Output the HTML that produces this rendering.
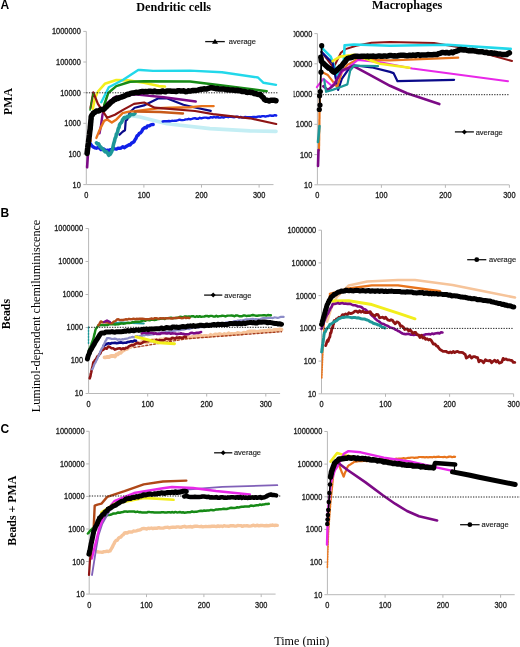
<!DOCTYPE html>
<html><head><meta charset="utf-8"><style>
html,body{margin:0;padding:0;background:#fff;}
body{width:520px;height:647px;position:relative;overflow:hidden;font-family:"Liberation Sans",sans-serif;}
</style></head><body>
<svg width="520" height="647" viewBox="0 0 520 647" style="position:absolute;left:0;top:0;will-change:transform">
<rect width="520" height="647" fill="#fff"/>
<text x="0.6" y="8.8" font-family="Liberation Sans, sans-serif" font-weight="bold" font-size="12" fill="#000">A</text>
<text x="0.6" y="217.4" font-family="Liberation Sans, sans-serif" font-weight="bold" font-size="12" fill="#000">B</text>
<text x="0.4" y="432.9" font-family="Liberation Sans, sans-serif" font-weight="bold" font-size="12" fill="#000">C</text>
<text x="173.7" y="11.2" text-anchor="middle" font-family="Liberation Serif, serif" font-weight="bold" font-size="12.2" fill="#000">Dendritic cells</text>
<text x="407.2" y="9.2" text-anchor="middle" font-family="Liberation Serif, serif" font-weight="bold" font-size="12.2" fill="#000">Macrophages</text>
<text transform="translate(12,101.5) rotate(-90)" text-anchor="middle" font-family="Liberation Serif, serif" font-weight="bold" font-size="11.8" fill="#000">PMA</text>
<text transform="translate(10.2,314.1) rotate(-90)" text-anchor="middle" font-family="Liberation Serif, serif" font-weight="bold" font-size="11.8" fill="#000">Beads</text>
<text transform="translate(16.1,510.7) rotate(-90)" text-anchor="middle" font-family="Liberation Serif, serif" font-weight="bold" font-size="11.9" fill="#000">Beads + PMA</text>
<text transform="translate(39.5,316) rotate(-90)" text-anchor="middle" font-family="Liberation Serif, serif" font-size="12.15" fill="#000">Luminol-dependent chemiluminiscence</text>
<text x="301.8" y="644.8" text-anchor="middle" font-family="Liberation Serif, serif" font-size="12.1" fill="#000">Time (min)</text>
<path d="M86.3,31.4 V184.6 H273.5" fill="none" stroke="#b8b8b8" stroke-width="1"/>
<line x1="83.3" y1="31.4" x2="86.3" y2="31.4" stroke="#b8b8b8" stroke-width="1"/>
<line x1="83.3" y1="62.0" x2="86.3" y2="62.0" stroke="#b8b8b8" stroke-width="1"/>
<line x1="83.3" y1="92.7" x2="86.3" y2="92.7" stroke="#b8b8b8" stroke-width="1"/>
<line x1="83.3" y1="123.3" x2="86.3" y2="123.3" stroke="#b8b8b8" stroke-width="1"/>
<line x1="83.3" y1="154.0" x2="86.3" y2="154.0" stroke="#b8b8b8" stroke-width="1"/>
<line x1="83.3" y1="184.6" x2="86.3" y2="184.6" stroke="#b8b8b8" stroke-width="1"/>
<line x1="143.9" y1="184.6" x2="143.9" y2="187.6" stroke="#b8b8b8" stroke-width="1"/>
<line x1="201.5" y1="184.6" x2="201.5" y2="187.6" stroke="#b8b8b8" stroke-width="1"/>
<line x1="259.1" y1="184.6" x2="259.1" y2="187.6" stroke="#b8b8b8" stroke-width="1"/>
<g>
<text transform="translate(80.8,34.4) scale(1,1.15)" text-anchor="end" font-family="Liberation Sans, sans-serif" font-size="7.4" fill="#222" stroke="#222" stroke-width="0.28">1000000</text>
<text transform="translate(80.8,65.0) scale(1,1.15)" text-anchor="end" font-family="Liberation Sans, sans-serif" font-size="7.4" fill="#222" stroke="#222" stroke-width="0.28">100000</text>
<text transform="translate(80.8,95.6) scale(1,1.15)" text-anchor="end" font-family="Liberation Sans, sans-serif" font-size="7.4" fill="#222" stroke="#222" stroke-width="0.28">10000</text>
<text transform="translate(80.8,126.3) scale(1,1.15)" text-anchor="end" font-family="Liberation Sans, sans-serif" font-size="7.4" fill="#222" stroke="#222" stroke-width="0.28">1000</text>
<text transform="translate(80.8,156.9) scale(1,1.15)" text-anchor="end" font-family="Liberation Sans, sans-serif" font-size="7.4" fill="#222" stroke="#222" stroke-width="0.28">100</text>
<text transform="translate(80.8,187.5) scale(1,1.15)" text-anchor="end" font-family="Liberation Sans, sans-serif" font-size="7.4" fill="#222" stroke="#222" stroke-width="0.28">10</text>
</g>
<text transform="translate(86.3,198.1) scale(1,1.15)" text-anchor="middle" font-family="Liberation Sans, sans-serif" font-size="7.4" fill="#222" stroke="#222" stroke-width="0.28">0</text>
<text transform="translate(143.9,198.1) scale(1,1.15)" text-anchor="middle" font-family="Liberation Sans, sans-serif" font-size="7.4" fill="#222" stroke="#222" stroke-width="0.28">100</text>
<text transform="translate(201.5,198.1) scale(1,1.15)" text-anchor="middle" font-family="Liberation Sans, sans-serif" font-size="7.4" fill="#222" stroke="#222" stroke-width="0.28">200</text>
<text transform="translate(259.1,198.1) scale(1,1.15)" text-anchor="middle" font-family="Liberation Sans, sans-serif" font-size="7.4" fill="#222" stroke="#222" stroke-width="0.28">300</text>
<polyline points="126.0,115.0 140.0,117.0 167.0,123.8 210.0,128.6 250.0,130.9 276.0,131.4" fill="none" stroke="#c4eef4" stroke-width="3.6" stroke-linejoin="round" stroke-linecap="round" />
<polyline points="90.2,143.6 91.8,145.7 93.3,147.0 94.8,147.8 96.4,148.2 98.0,147.5 99.5,147.8 101.0,149.6 102.6,148.9 104.1,149.2 105.7,150.9 107.2,150.2 108.7,150.6 110.3,149.6 111.8,149.6 113.4,148.4 114.9,148.9 116.5,149.1 118.0,148.2 119.6,148.4 121.1,148.0 122.7,146.7 124.2,147.7 125.7,146.8 127.3,145.8 128.8,144.8 130.1,145.1 131.4,143.3 132.7,142.5 134.0,141.7 135.0,139.7 136.0,138.4 137.0,135.8 138.2,135.2 139.3,133.3 140.5,132.9 141.7,131.5 142.9,129.1 144.0,128.2 145.2,127.4 146.3,127.8 147.5,125.9 149.4,125.7 151.3,124.6 153.2,124.5" fill="none" stroke="#1020e8" stroke-width="3.4" stroke-linejoin="round" stroke-linecap="round" />
<polyline points="162.7,121.5 164.2,121.2 165.8,121.1 167.3,121.2 168.9,121.0 170.4,121.2 171.9,120.8 173.5,120.9 175.0,120.7 176.5,120.7 178.1,120.2 179.6,119.6 181.2,120.1 182.7,120.1 184.2,119.9 185.8,119.4 187.3,119.4 188.8,118.8 190.4,119.3 191.9,118.9 193.5,118.4 195.0,118.1 196.6,118.8 198.2,118.8 199.8,117.8 201.3,118.4 202.9,117.9 204.5,117.6 206.1,117.6 207.7,118.0 209.3,118.0 210.9,117.1 212.5,117.6 214.0,116.9 215.6,117.5 217.2,117.0 218.8,117.5 220.4,117.6 221.9,117.1 223.5,117.6 225.0,116.9 226.6,116.7 228.2,117.2 229.7,116.6 231.3,116.8 232.8,117.0 234.4,117.2 236.0,116.8 237.5,116.6 239.1,117.5 240.6,116.9 242.2,117.6 243.8,117.5 245.3,117.0 246.9,117.1 248.4,117.1 250.0,117.2 251.5,117.1 253.1,117.0 254.6,116.9 256.2,117.2 257.7,116.6 259.2,116.5 260.8,116.7 262.3,116.1 263.9,116.1 265.4,116.6 267.0,116.1 268.5,116.0 270.0,115.4 271.6,115.7 273.1,115.8 274.7,115.1 276.2,115.5" fill="none" stroke="#1020e8" stroke-width="2.4" stroke-linejoin="round" stroke-linecap="round" />
<polyline points="119.5,134.8 122.6,131.7 125.0,130.2 125.7,120.9 127.3,119.4 130.0,112.0 134.7,107.7 144.0,105.4 158.0,98.5 167.3,98.5 183.4,104.8 195.0,107.5 210.8,110.8" fill="none" stroke="#0a0a8a" stroke-width="2.2" stroke-linejoin="round" stroke-linecap="round" />
<polyline points="96.4,142.8 97.5,144.0 98.6,143.9 99.7,146.2 100.8,146.9 101.9,148.5 103.0,148.9 104.1,150.7 105.2,151.9 106.4,151.6 107.5,152.9 108.7,155.3 110.2,154.3 111.8,151.3 112.2,150.2 112.6,148.9 113.0,146.8 113.3,145.4 113.7,143.7 114.1,142.3 114.5,141.2 114.9,139.1 115.4,137.7 115.9,136.9 116.4,133.9 116.9,133.4 117.5,132.2 118.0,129.8 118.5,128.1 119.0,127.7 119.5,125.0 120.3,123.6 121.1,122.8 121.8,122.0 122.6,119.6 123.4,118.7 124.2,117.5 125.8,117.9 127.3,116.5 128.8,116.8 130.4,114.8 131.9,114.5 133.5,114.4 135.0,113.4" fill="none" stroke="#1e9898" stroke-width="3.6" stroke-linejoin="round" stroke-linecap="round" />
<polyline points="87.1,167.3 87.9,155.0 89.4,144.0" fill="none" stroke="#7c0a86" stroke-width="2.6" stroke-linejoin="round" stroke-linecap="round" />
<polyline points="99.5,133.3 101.0,125.5 102.5,114.7 106.0,104.0 115.0,97.0 135.0,94.4 163.8,97.3 195.8,101.5" fill="none" stroke="#7c0a86" stroke-width="2.4" stroke-linejoin="round" stroke-linecap="round" />
<polyline points="88.6,131.7 91.0,141.0" fill="none" stroke="#e8741c" stroke-width="2" stroke-linejoin="round" stroke-linecap="round" stroke-dasharray="1.5,1.2"/>
<polyline points="96.4,137.9 99.5,130.2 104.1,120.9 107.2,119.4 111.8,122.5 116.5,119.4 122.6,113.2 128.8,111.6 135.0,111.1 158.1,108.3 169.6,107.7 190.0,107.3 201.5,106.1 213.6,106.1" fill="none" stroke="#e8741c" stroke-width="2.4" stroke-linejoin="round" stroke-linecap="round" />
<polyline points="135.0,111.5 160.0,112.0 183.0,113.5" fill="none" stroke="#c85a18" stroke-width="2.4" stroke-linejoin="round" stroke-linecap="round" />
<polyline points="92.8,109.0 95.0,98.0 98.0,91.5 104.8,83.8 116.3,80.1 127.8,80.4 144.0,82.7 158.8,86.1 165.0,86.5" fill="none" stroke="#f2ee1c" stroke-width="2.6" stroke-linejoin="round" stroke-linecap="round" />
<polyline points="90.5,108.0 93.3,92.3 97.9,103.9 104.1,113.2 107.2,117.8 114.9,114.7 122.6,110.1 134.0,103.9 144.2,102.5 154.6,107.7 169.6,108.8 195.0,111.0 213.1,114.2 250.0,118.3 276.2,124.0" fill="none" stroke="#8e1414" stroke-width="2.2" stroke-linejoin="round" stroke-linecap="round" />
<polyline points="104.2,105.0 108.2,93.0 116.3,86.1 130.1,81.8 144.0,81.3 190.0,81.5 222.3,85.5 266.7,91.2" fill="none" stroke="#168a16" stroke-width="2.5" stroke-linejoin="round" stroke-linecap="round" />
<polyline points="90.0,110.0 93.0,94.0" fill="none" stroke="#168a16" stroke-width="1.6" stroke-linejoin="round" stroke-linecap="round" stroke-dasharray="1.5,1.5"/>
<polyline points="101.3,102.3 108.8,87.3 123.2,79.8 138.2,70.0 140.4,70.0 153.1,70.9 190.0,70.6 222.0,72.2 258.0,77.5 263.5,82.8 276.0,84.9" fill="none" stroke="#22d8ea" stroke-width="2.4" stroke-linejoin="round" stroke-linecap="round" />
<line x1="86.3" y1="92.8" x2="278.3" y2="92.8" stroke="#222" stroke-width="1" stroke-dasharray="1.3,1.3"/>
<polyline points="87.1,153.4 87.3,151.5 87.5,149.7 87.7,148.1 87.8,147.0 88.0,145.2 88.2,144.3 88.4,142.8 88.6,140.7 88.8,139.2 89.0,138.2 89.2,136.5 89.4,135.1 89.6,133.1 89.8,131.3 90.0,129.9 90.2,128.9 90.3,126.7 90.5,125.1 90.6,123.5 90.8,121.9 90.9,120.2 91.1,119.1 91.2,116.7 92.0,115.0 92.7,114.4 93.5,112.9 95.0,112.2 96.4,110.9 97.9,111.1 99.4,110.6 100.8,109.5 102.3,109.6 103.8,109.3 105.1,108.0 106.4,106.8 107.7,105.4 109.0,104.3 110.2,103.1 111.5,101.7 112.8,101.1 114.0,99.6 115.4,99.5 116.9,98.1 118.3,98.4 119.7,97.6 121.2,97.2 122.6,96.6 124.2,96.1 125.7,95.3 127.3,94.3 128.8,94.5 130.4,93.4 131.9,93.1 133.5,93.0 135.0,92.6 136.5,92.3 138.0,92.7 139.5,92.2 141.0,91.7 142.5,91.4 144.0,91.9 145.5,91.5 147.1,91.8 148.6,91.3 150.1,91.2 151.7,91.5 153.2,91.8 154.7,91.1 156.3,91.7 157.8,91.8 159.3,91.7 160.9,91.7 162.4,90.9 163.9,91.5 165.5,91.7 167.0,90.9 168.5,91.1 170.1,91.1 171.6,91.3 173.1,91.2 174.7,91.3 176.2,91.6 177.7,90.8 179.3,90.8 180.8,90.9 182.3,90.9 183.9,90.8 185.4,91.7 186.9,91.6 188.5,90.8 190.0,91.2 191.6,90.8 193.1,90.6 194.7,90.4 196.2,90.4 197.8,90.1 199.3,89.7 200.8,89.3 202.4,89.2 203.9,88.8 205.5,89.0 207.0,88.9 208.6,88.3 210.1,87.8 211.7,87.7 213.2,88.0 214.7,88.4 216.2,88.7 217.7,88.5 219.2,89.1 220.8,89.0 222.3,89.0 223.8,89.1 225.3,89.4 226.8,89.7 228.3,89.6 229.8,90.0 231.3,89.9 232.8,89.9 234.3,90.3 235.9,90.6 237.4,90.2 238.9,90.7 240.4,90.8 241.9,91.4 243.4,91.6 244.9,91.4 246.5,92.2 248.0,92.4 249.5,92.1 251.1,92.6 252.6,92.6 254.2,93.5 255.7,93.7 257.2,94.2 258.8,94.4 260.3,94.6 261.4,95.9 262.4,97.0 263.5,97.8 264.5,99.5 265.6,100.2 267.3,100.3 269.1,101.0 270.8,100.2 272.5,100.3 274.3,100.3 276.0,100.7" fill="none" stroke="#000" stroke-width="5.5" stroke-linejoin="round" stroke-linecap="round" />
<line x1="205.2" y1="41.6" x2="224.8" y2="41.6" stroke="#111" stroke-width="1.3"/>
<path d="M212.0,43.800000000000004 L218.0,43.800000000000004 L215.0,38.800000000000004 Z" fill="#000"/>
<text x="228.8" y="44.2" font-family="Liberation Sans, sans-serif" font-size="7.5" fill="#222" stroke="#222" stroke-width="0.15">average</text>
<path d="M317.4,33.6 V184.8 H509.2" fill="none" stroke="#b8b8b8" stroke-width="1"/>
<line x1="314.4" y1="33.6" x2="317.4" y2="33.6" stroke="#b8b8b8" stroke-width="1"/>
<line x1="314.4" y1="63.8" x2="317.4" y2="63.8" stroke="#b8b8b8" stroke-width="1"/>
<line x1="314.4" y1="94.1" x2="317.4" y2="94.1" stroke="#b8b8b8" stroke-width="1"/>
<line x1="314.4" y1="124.3" x2="317.4" y2="124.3" stroke="#b8b8b8" stroke-width="1"/>
<line x1="314.4" y1="154.6" x2="317.4" y2="154.6" stroke="#b8b8b8" stroke-width="1"/>
<line x1="314.4" y1="184.8" x2="317.4" y2="184.8" stroke="#b8b8b8" stroke-width="1"/>
<line x1="381.4" y1="184.8" x2="381.4" y2="187.8" stroke="#b8b8b8" stroke-width="1"/>
<line x1="445.4" y1="184.8" x2="445.4" y2="187.8" stroke="#b8b8b8" stroke-width="1"/>
<line x1="509.4" y1="184.8" x2="509.4" y2="187.8" stroke="#b8b8b8" stroke-width="1"/>
<clipPath id="c317"><rect x="293.6" y="0" width="100" height="647"/></clipPath>
<g clip-path="url(#c317)">
<text transform="translate(312.3,36.6) scale(1,1.15)" text-anchor="end" font-family="Liberation Sans, sans-serif" font-size="7.4" fill="#222" stroke="#222" stroke-width="0.28">1000000</text>
<text transform="translate(312.3,66.8) scale(1,1.15)" text-anchor="end" font-family="Liberation Sans, sans-serif" font-size="7.4" fill="#222" stroke="#222" stroke-width="0.28">100000</text>
<text transform="translate(312.3,97.0) scale(1,1.15)" text-anchor="end" font-family="Liberation Sans, sans-serif" font-size="7.4" fill="#222" stroke="#222" stroke-width="0.28">10000</text>
<text transform="translate(312.3,127.3) scale(1,1.15)" text-anchor="end" font-family="Liberation Sans, sans-serif" font-size="7.4" fill="#222" stroke="#222" stroke-width="0.28">1000</text>
<text transform="translate(312.3,157.5) scale(1,1.15)" text-anchor="end" font-family="Liberation Sans, sans-serif" font-size="7.4" fill="#222" stroke="#222" stroke-width="0.28">100</text>
<text transform="translate(312.3,187.8) scale(1,1.15)" text-anchor="end" font-family="Liberation Sans, sans-serif" font-size="7.4" fill="#222" stroke="#222" stroke-width="0.28">10</text>
</g>
<text transform="translate(317.4,198.3) scale(1,1.15)" text-anchor="middle" font-family="Liberation Sans, sans-serif" font-size="7.4" fill="#222" stroke="#222" stroke-width="0.28">0</text>
<text transform="translate(381.4,198.3) scale(1,1.15)" text-anchor="middle" font-family="Liberation Sans, sans-serif" font-size="7.4" fill="#222" stroke="#222" stroke-width="0.28">100</text>
<text transform="translate(445.4,198.3) scale(1,1.15)" text-anchor="middle" font-family="Liberation Sans, sans-serif" font-size="7.4" fill="#222" stroke="#222" stroke-width="0.28">200</text>
<text transform="translate(509.4,198.3) scale(1,1.15)" text-anchor="middle" font-family="Liberation Sans, sans-serif" font-size="7.4" fill="#222" stroke="#222" stroke-width="0.28">300</text>
<polyline points="321.5,51.9 333.5,67.7 340.9,52.8 345.5,49.1 356.2,45.8 371.5,42.7 390.0,41.9 433.9,42.9 460.8,47.5 487.7,54.2 512.0,61.0" fill="none" stroke="#8e1414" stroke-width="2" stroke-linejoin="round" stroke-linecap="round" />
<polyline points="321.4,47.3 330.7,56.6 334.4,66.8 336.3,77.9 340.0,70.0 343.8,60.0 344.6,45.4 354.0,44.5 390.0,45.8 447.3,44.8 510.7,48.9" fill="none" stroke="#22d8ea" stroke-width="2.6" stroke-linejoin="round" stroke-linecap="round" />
<polyline points="321.4,51.9 332.6,63.0 338.1,89.9 341.8,78.8 351.5,65.0 371.5,67.3 390.0,71.9 393.5,73.1 397.5,81.2 454.1,79.9" fill="none" stroke="#0a0a8a" stroke-width="2.2" stroke-linejoin="round" stroke-linecap="round" />
<polyline points="322.3,72.3 327.9,75.1 337.2,87.2 341.8,72.3 347.4,64.9 354.0,61.2 356.2,59.6 390.0,60.4 458.2,57.7" fill="none" stroke="#e8741c" stroke-width="2.2" stroke-linejoin="round" stroke-linecap="round" />
<polyline points="316.8,87.2 323.3,78.8 332.0,86.0 342.0,72.0 350.0,66.0 358.0,60.0 380.0,62.3 412.3,68.5 508.0,81.2" fill="none" stroke="#e828e8" stroke-width="2" stroke-linejoin="round" stroke-linecap="round" />
<polyline points="332.6,61.2 340.0,56.6 354.0,54.7 380.0,63.7 409.6,67.7" fill="none" stroke="#f2ee1c" stroke-width="2.6" stroke-linejoin="round" stroke-linecap="round" />
<polyline points="323.3,86.2 327.9,89.9 334.4,84.4 341.8,70.5 349.3,67.7 353.1,65.8 368.5,74.2 390.0,85.8 407.0,93.3 439.3,104.1" fill="none" stroke="#7c0a86" stroke-width="2.6" stroke-linejoin="round" stroke-linecap="round" />
<polyline points="324.2,79.7 326.1,91.8 332.6,89.9 340.0,87.2 347.4,84.4 350.2,70.5 354.0,65.8 363.8,65.8 378.0,66.2" fill="none" stroke="#1e9898" stroke-width="2.2" stroke-linejoin="round" stroke-linecap="round" />
<polyline points="319.0,150.5 319.0,148.1 319.0,146.4 319.1,145.8 319.1,143.5 319.1,142.8 319.1,141.1 319.2,139.8 319.2,138.4 319.2,136.4 319.2,135.1 319.2,132.7 319.3,132.1 319.3,130.2 319.3,129.0 319.3,126.7 319.3,126.0 319.4,124.7 319.4,122.1 319.4,120.9 319.4,119.6 319.5,118.4 319.5,116.2 319.5,114.6 319.5,113.2 319.6,112.1 319.6,110.7 319.7,108.7 319.7,107.1 319.7,105.6 319.8,104.1 319.8,102.6 319.8,100.7 319.9,99.6 319.9,98.6 320.0,96.4 320.0,95.0" fill="none" stroke="#e8741c" stroke-width="2.2" stroke-linejoin="round" stroke-linecap="round" />
<polyline points="318.0,142.0 319.5,126.0" fill="none" stroke="#1e9898" stroke-width="2.6" stroke-linejoin="round" stroke-linecap="round" />
<polyline points="318.0,166.0 318.5,150.0" fill="none" stroke="#7c0a86" stroke-width="2.6" stroke-linejoin="round" stroke-linecap="round" />
<line x1="317.4" y1="94.7" x2="509.4" y2="94.7" stroke="#222" stroke-width="1" stroke-dasharray="1.3,1.3"/>
<polyline points="321.7,45.7 321.0,72.0 320.3,92.0 319.6,96.0 320.0,108.0" fill="none" stroke="#000" stroke-width="1.8" stroke-linejoin="round" stroke-linecap="round" />
<circle cx="321.7" cy="45.7" r="2.6" fill="#000"/>
<circle cx="321" cy="72.2" r="2.6" fill="#000"/>
<circle cx="320.3" cy="91.6" r="2.6" fill="#000"/>
<circle cx="319.6" cy="95.8" r="2.6" fill="#000"/>
<circle cx="320" cy="105" r="2.6" fill="#000"/>
<circle cx="319.3" cy="109.5" r="2.6" fill="#000"/>
<polyline points="320.8,57.2 321.1,58.8 321.4,61.4 322.6,62.6 323.8,63.6 324.9,64.7 326.1,65.8 327.3,66.8 328.5,68.0 329.7,68.3 330.8,69.2 332.0,70.6 333.2,71.7 334.4,72.3 335.6,71.2 336.9,70.3 338.1,68.8 339.3,67.8 340.6,66.6 341.8,65.9 342.7,64.4 343.7,63.1 344.6,62.3 345.5,61.2 346.5,59.5 347.4,58.6 349.0,57.9 350.7,57.8 352.4,57.1 354.0,56.4 355.5,56.3 357.0,56.2 358.5,56.5 360.0,56.4 361.5,56.2 363.0,56.3 364.5,56.2 366.0,56.6 367.5,56.0 369.0,56.7 370.5,56.2 372.0,56.3 373.5,56.1 375.0,56.4 376.5,56.4 378.0,56.1 379.5,56.0 381.0,56.2 382.5,56.3 384.0,55.9 385.5,56.1 387.0,56.2 388.5,55.8 390.0,55.6 391.5,55.6 393.0,55.9 394.5,55.8 396.1,56.0 397.6,55.9 399.1,55.4 400.6,55.3 402.1,55.3 403.6,55.2 405.1,55.6 406.7,55.7 408.2,55.7 409.7,55.2 411.2,55.6 412.7,55.1 414.2,55.2 415.7,55.4 417.2,54.8 418.8,54.8 420.3,55.4 421.8,54.9 423.3,54.9 424.8,55.1 426.3,55.1 427.8,54.5 429.4,54.8 430.9,54.8 432.4,54.8 433.9,54.6 435.5,54.5 437.1,54.4 438.8,53.6 440.4,53.3 442.0,52.6 443.5,52.6 445.1,52.9 446.6,52.4 448.2,52.9 449.7,52.9 451.3,52.1 452.8,52.8 454.4,51.7 456.0,51.4 457.6,50.8 459.2,49.8 460.8,49.5 462.3,49.7 463.8,50.0 465.3,49.7 466.8,50.3 468.3,50.7 469.8,50.6 471.3,50.7 472.8,50.5 474.3,51.0 475.8,51.1 477.4,51.5 478.9,51.7 480.5,51.8 482.0,51.7 483.6,52.2 485.1,52.4 486.6,52.2 488.2,52.9 489.7,52.9 491.3,52.7 492.8,53.5 494.4,53.1 495.9,53.4 497.4,53.9 499.0,54.0 500.5,54.1 502.1,54.4 503.6,54.4 505.2,54.5 506.7,54.5 508.0,53.5 509.4,52.9" fill="none" stroke="#000" stroke-width="5.5" stroke-linejoin="round" stroke-linecap="round" />
<line x1="454.9" y1="131.9" x2="473.9" y2="131.9" stroke="#111" stroke-width="1.3"/>
<path d="M461.9,131.9 L464.4,129.4 L466.9,131.9 L464.4,134.4 Z" fill="#000"/>
<text x="475.7" y="134.5" font-family="Liberation Sans, sans-serif" font-size="7.5" fill="#222" stroke="#222" stroke-width="0.15">average</text>
<path d="M88.6,228.5 V393.5 H280.1" fill="none" stroke="#b8b8b8" stroke-width="1"/>
<line x1="85.6" y1="228.5" x2="88.6" y2="228.5" stroke="#b8b8b8" stroke-width="1"/>
<line x1="85.6" y1="261.5" x2="88.6" y2="261.5" stroke="#b8b8b8" stroke-width="1"/>
<line x1="85.6" y1="294.5" x2="88.6" y2="294.5" stroke="#b8b8b8" stroke-width="1"/>
<line x1="85.6" y1="327.5" x2="88.6" y2="327.5" stroke="#b8b8b8" stroke-width="1"/>
<line x1="85.6" y1="360.5" x2="88.6" y2="360.5" stroke="#b8b8b8" stroke-width="1"/>
<line x1="85.6" y1="393.5" x2="88.6" y2="393.5" stroke="#b8b8b8" stroke-width="1"/>
<line x1="147.7" y1="393.5" x2="147.7" y2="396.5" stroke="#b8b8b8" stroke-width="1"/>
<line x1="206.7" y1="393.5" x2="206.7" y2="396.5" stroke="#b8b8b8" stroke-width="1"/>
<line x1="265.8" y1="393.5" x2="265.8" y2="396.5" stroke="#b8b8b8" stroke-width="1"/>
<g>
<text transform="translate(83.0,231.4) scale(1,1.15)" text-anchor="end" font-family="Liberation Sans, sans-serif" font-size="7.4" fill="#222" stroke="#222" stroke-width="0.28">1000000</text>
<text transform="translate(83.0,264.4) scale(1,1.15)" text-anchor="end" font-family="Liberation Sans, sans-serif" font-size="7.4" fill="#222" stroke="#222" stroke-width="0.28">100000</text>
<text transform="translate(83.0,297.4) scale(1,1.15)" text-anchor="end" font-family="Liberation Sans, sans-serif" font-size="7.4" fill="#222" stroke="#222" stroke-width="0.28">10000</text>
<text transform="translate(83.0,330.4) scale(1,1.15)" text-anchor="end" font-family="Liberation Sans, sans-serif" font-size="7.4" fill="#222" stroke="#222" stroke-width="0.28">1000</text>
<text transform="translate(83.0,363.4) scale(1,1.15)" text-anchor="end" font-family="Liberation Sans, sans-serif" font-size="7.4" fill="#222" stroke="#222" stroke-width="0.28">100</text>
<text transform="translate(83.0,396.4) scale(1,1.15)" text-anchor="end" font-family="Liberation Sans, sans-serif" font-size="7.4" fill="#222" stroke="#222" stroke-width="0.28">10</text>
</g>
<text transform="translate(88.6,407.0) scale(1,1.15)" text-anchor="middle" font-family="Liberation Sans, sans-serif" font-size="7.4" fill="#222" stroke="#222" stroke-width="0.28">0</text>
<text transform="translate(147.7,407.0) scale(1,1.15)" text-anchor="middle" font-family="Liberation Sans, sans-serif" font-size="7.4" fill="#222" stroke="#222" stroke-width="0.28">100</text>
<text transform="translate(206.7,407.0) scale(1,1.15)" text-anchor="middle" font-family="Liberation Sans, sans-serif" font-size="7.4" fill="#222" stroke="#222" stroke-width="0.28">200</text>
<text transform="translate(265.8,407.0) scale(1,1.15)" text-anchor="middle" font-family="Liberation Sans, sans-serif" font-size="7.4" fill="#222" stroke="#222" stroke-width="0.28">300</text>
<polyline points="104.5,357.3 106.0,357.3 107.5,356.8 109.0,357.0 110.5,356.2 112.0,355.9 113.5,356.0 115.0,356.6 116.4,354.4 117.8,354.3 119.1,353.0 120.5,352.9 121.9,351.4 123.2,350.5 124.6,349.7 126.0,349.1 127.5,348.6 129.0,347.2 130.5,347.2 132.0,345.2 133.5,344.7 135.0,343.6 136.5,342.9 138.1,343.7 139.7,343.3 141.3,342.2 142.9,341.9 144.5,342.0 146.0,342.3 147.6,342.1 149.2,341.7 150.8,341.2 152.4,340.2 154.0,340.3 155.6,339.9 157.1,340.2 158.7,340.2 160.2,339.4 161.8,339.4 163.3,340.1 164.8,338.7 166.4,339.8 167.9,339.8 169.5,339.7 171.1,338.7 172.6,338.8 174.2,338.7 175.7,338.6 177.2,339.0 178.8,338.4 180.3,337.6 181.9,338.4 183.4,337.6 185.0,337.7 186.5,337.7 188.0,336.5 189.5,337.6 191.0,337.3 192.5,336.9 194.0,336.8 195.6,336.6 197.1,336.0 198.6,336.4 200.1,335.5 201.6,336.1 203.1,336.3 204.6,335.8 206.1,335.9 207.6,336.4 209.1,336.2 210.6,334.8 212.1,335.7 213.6,335.4 215.2,334.3 216.7,334.7 218.2,334.4 219.7,334.0 221.2,334.6 222.7,335.1 224.2,334.0 225.7,334.8 227.2,334.4 228.7,333.3 230.2,334.4 231.7,333.8 233.2,334.2 234.8,333.8 236.3,333.7 237.8,332.9 239.3,333.5 240.8,333.6 242.3,333.4 243.8,332.6 245.3,333.0 246.8,332.4 248.3,331.7 249.8,331.5 251.3,331.4 252.9,331.5 254.4,331.3 255.9,331.7 257.4,331.9 258.9,331.5 260.4,331.2 261.9,331.4 263.4,330.8 264.9,330.9 266.4,331.2 267.9,330.6 269.4,330.1 270.9,331.1 272.5,330.7 274.0,330.0 275.5,329.9 277.0,330.0 278.5,330.0 280.0,329.3 281.5,329.6" fill="none" stroke="#f6c49a" stroke-width="3.8" stroke-linejoin="round" stroke-linecap="round" />
<polyline points="134.0,347.5 186.0,338.8 281.5,331.7" fill="none" stroke="#a84020" stroke-width="1.4" stroke-linejoin="round" stroke-linecap="round" stroke-dasharray="2,2"/>
<polyline points="89.7,378.3 90.1,377.0 90.4,376.4 90.8,373.7 91.2,372.6 91.6,370.6 91.9,369.0 92.3,367.4 92.7,366.1 93.0,364.2 93.4,362.3 94.3,361.2 95.1,360.1 96.0,359.4 96.8,357.4 97.7,356.1 98.6,355.6 99.4,354.3 100.3,353.5 101.1,351.2 102.0,350.5 103.5,349.6 105.1,348.1 106.7,348.7 108.2,346.6 109.8,347.0 111.5,348.2 113.2,348.3 114.8,349.6 116.4,349.0 118.0,348.5 119.7,348.2 121.3,349.2 122.9,348.3 124.5,349.0 125.9,347.8 127.4,348.0 128.8,346.4 130.2,345.7 131.7,345.1 133.1,345.4 134.6,344.5 136.0,343.5 137.6,342.8 139.1,343.5 140.7,343.7 142.3,342.8 143.9,341.6 145.4,341.4 147.0,341.2 148.6,341.1 150.2,340.6 151.7,340.3 153.3,341.0 154.9,341.3 156.4,339.9 158.0,341.0 159.5,340.0 161.1,340.4 162.6,340.4 164.2,340.2 165.8,338.6 167.3,338.8 168.9,339.1 170.4,339.5 172.0,337.9 173.5,338.1 175.1,338.8 176.7,337.4 178.2,337.7 179.8,337.4 181.3,337.7 182.9,338.0 184.4,336.6 186.0,336.9" fill="none" stroke="#8e1414" stroke-width="2.6" stroke-linejoin="round" stroke-linecap="round" />
<polyline points="103.3,346.1 105.2,344.8 107.0,343.7 108.6,343.3 110.2,343.7 111.8,343.0 113.4,343.0 115.0,342.7 116.5,343.3 118.1,342.9 119.7,342.6 121.3,342.4 122.9,343.0 124.5,342.8 126.1,342.7 127.8,342.0 129.4,341.9 131.1,341.2 132.7,341.6 134.4,340.5 136.0,340.8" fill="none" stroke="#0a0a8a" stroke-width="2.6" stroke-linejoin="round" stroke-linecap="round" />
<polyline points="92.2,369.3 92.9,368.2 93.5,366.7 94.2,364.7 94.8,363.4 95.5,362.6 96.1,361.0 96.8,359.9 97.4,358.5 98.1,356.6 98.7,355.7 99.4,354.1 100.0,352.3 100.7,351.0 101.3,349.3 102.0,348.2 102.7,347.3 103.4,345.1 104.1,344.1 104.9,342.3 105.6,340.8 106.3,340.0 107.0,338.1 108.5,338.1 110.0,338.3 111.5,338.9 113.0,339.0 114.6,338.6 116.1,338.9 117.6,339.8 119.1,339.2 120.6,339.7 122.1,339.2 123.6,339.3 125.1,338.8 126.6,338.7 128.1,338.2 129.6,337.6 131.1,337.3 132.6,336.9 134.1,337.3 135.6,336.4 137.1,336.1 138.7,336.8 140.2,335.8 141.7,336.2 143.2,335.2 144.8,335.3 146.3,334.8 147.8,335.2 149.3,334.8 150.9,334.6 152.4,334.4 153.9,334.3 155.4,333.6 157.0,333.6 158.5,333.2 160.0,332.6 161.5,333.1 163.1,332.6 164.6,332.6 166.2,331.8 167.7,331.9 169.2,331.6 170.8,331.6 172.3,330.7 173.8,330.8 175.4,330.7 176.9,330.0 178.5,330.3 180.0,330.2 181.5,329.7 183.1,329.7 184.6,329.4 186.2,328.8 187.7,328.7 189.2,329.1 190.8,328.2 192.3,328.1 193.8,327.5 195.4,327.4 196.9,327.1 198.5,327.7 200.0,327.2 201.5,327.1 203.0,327.0 204.5,326.4 206.0,326.5 207.5,325.8 209.0,325.5 210.5,325.8 212.0,325.5 213.5,325.3 215.0,324.6 216.5,324.6 218.0,324.0 219.5,324.4 221.0,324.0 222.4,323.2 223.9,323.6 225.4,322.6 226.9,322.3 228.4,322.6 229.9,322.0 231.4,322.0 232.9,321.8 234.4,321.0 235.9,321.5 237.4,320.7 238.9,320.7 240.4,320.3 241.9,320.5 243.4,320.2 244.9,319.7 246.5,319.4 248.0,319.4 249.6,319.4 251.1,319.0 252.7,318.9 254.2,319.4 255.8,319.2 257.3,319.4 258.9,319.3 260.4,319.1 262.0,318.4 263.5,318.1 265.0,318.1 266.6,318.2 268.1,318.1 269.7,318.0 271.2,317.7 272.8,318.1 274.3,317.4 275.9,317.5 277.4,317.8 279.0,317.6 280.5,316.9 282.1,316.8 283.6,316.9" fill="none" stroke="#8c8cc8" stroke-width="2.2" stroke-linejoin="round" stroke-linecap="round" />
<polyline points="141.8,333.5 143.3,332.5 144.8,332.7 146.4,333.2 147.9,333.3 149.4,332.9 150.9,332.7 152.5,333.0 154.0,333.7 155.5,333.3 157.0,334.0 158.6,333.8 160.1,334.0 161.6,332.9 163.1,333.2 164.7,333.0 166.2,333.5 167.7,333.4 169.2,333.1 170.8,333.7 172.3,333.2 173.8,333.5 175.3,333.5 176.9,334.2 178.4,333.7 179.9,333.6 181.4,333.4 183.0,333.9 184.5,334.1 186.0,334.2 187.5,334.3 189.0,334.0 190.5,333.1 192.0,332.8 193.6,333.4 195.1,333.2 196.6,332.7 198.1,332.9 199.6,332.4 201.1,332.1" fill="none" stroke="#7c0a86" stroke-width="2.6" stroke-linejoin="round" stroke-linecap="round" />
<polyline points="136.0,336.9 143.7,338.8 159.1,342.7 174.5,343.7" fill="none" stroke="#f2ee1c" stroke-width="3" stroke-linejoin="round" stroke-linecap="round" />
<polyline points="112.9,323.5 120.6,322.5 143.7,323.5" fill="none" stroke="#1e9898" stroke-width="2.2" stroke-linejoin="round" stroke-linecap="round" />
<polyline points="88.5,351.8 89.0,350.2 89.6,348.5 90.1,347.6 90.7,346.4 91.2,344.9 91.8,342.9 92.3,341.6 92.9,340.3 93.4,338.7 93.8,336.9 94.2,335.0 94.7,333.5 95.1,331.5 95.5,329.8 95.9,328.7 97.1,327.4 98.3,325.4 99.8,325.2 101.4,325.0 102.9,325.0 104.5,325.3 106.0,324.8 107.5,325.2 109.1,324.3 110.6,324.3 112.2,324.4 113.7,324.2 115.3,324.5 116.8,324.4 118.3,324.4 119.9,323.9 121.4,323.3 123.0,323.7 124.5,323.5 126.1,323.2 127.7,322.8 129.3,323.0 130.9,322.9 132.5,321.9 134.1,322.2 135.7,321.7 137.3,321.6 138.9,321.7 140.5,321.5 142.1,321.0 143.7,320.3 145.2,320.9 146.7,320.0 148.2,320.1 149.7,320.4 151.3,319.7 152.8,319.5 154.3,320.1 155.8,319.9 157.3,319.2 158.8,319.1 160.3,318.8 161.8,318.6 163.3,318.5 164.8,319.1 166.4,318.1 167.9,318.1 169.4,317.9 170.9,317.7 172.4,318.0 173.9,318.1 175.4,318.0 176.9,317.7 178.4,317.7 180.0,316.8 181.5,316.9 183.0,317.4 184.5,316.4 186.0,316.5 187.5,316.7 189.0,316.4 190.5,316.7 192.1,316.1 193.6,316.3 195.1,317.0 196.6,316.2 198.1,316.9 199.6,316.1 201.2,316.9 202.7,316.6 204.2,316.5 205.7,316.0 207.2,315.9 208.7,316.6 210.3,315.9 211.8,315.9 213.3,316.5 214.8,316.6 216.3,315.7 217.8,316.6 219.4,316.1 220.9,316.0 222.4,315.7 223.9,315.9 225.4,316.5 226.9,315.8 228.4,315.6 230.0,315.6 231.5,315.5 233.0,315.7 234.5,316.3 236.0,315.4 237.5,315.5 239.1,316.2 240.6,316.2 242.1,316.2 243.6,315.4 245.1,315.5 246.6,316.1 248.2,315.6 249.7,315.8 251.2,315.4 252.7,315.0 254.2,315.3 255.7,315.7 257.3,315.7 258.8,315.5 260.3,315.4 261.8,315.4 263.3,315.3 264.8,315.3 266.4,315.6 267.9,315.0 269.4,315.3 270.9,315.2" fill="none" stroke="#168a16" stroke-width="2.4" stroke-linejoin="round" stroke-linecap="round" />
<polyline points="98.3,325.2 99.5,323.6 100.8,321.4 102.5,322.4 104.1,322.4 105.8,322.0 107.4,322.5 109.1,322.9 110.7,323.2 112.2,323.2 113.8,321.7 115.4,321.2 116.9,319.5 118.4,319.3 119.9,320.1 121.5,319.9 123.0,320.0 124.5,319.6 126.0,319.3 127.5,319.5 129.0,318.8 130.5,319.2 132.0,319.1 133.5,318.7 135.0,319.2 136.5,318.8 138.0,319.0 139.5,318.8 141.0,318.7 142.5,318.7 144.0,318.9 145.5,319.3 147.0,319.2 148.5,319.1 150.0,319.0 151.5,318.4 153.0,319.1 154.5,318.3 156.0,318.1 157.5,318.5 159.0,318.7 160.5,318.2 162.0,318.5 163.5,318.1 165.0,318.7 166.5,318.2 168.0,318.2 169.5,318.2 171.0,318.5 172.5,318.5 174.0,318.0 175.5,317.9 177.0,318.1 178.5,317.5 180.0,317.8 181.5,318.2 183.0,318.1 184.5,317.3 186.0,318.1 187.8,317.7 189.5,318.0" fill="none" stroke="#b04818" stroke-width="2.4" stroke-linejoin="round" stroke-linecap="round" />
<polyline points="104.0,322.0 107.0,320.5 110.0,322.0" fill="none" stroke="#7c0a86" stroke-width="2.4" stroke-linejoin="round" stroke-linecap="round" />
<polyline points="88.5,327.0 88.5,345.0" fill="none" stroke="#1e9898" stroke-width="1.4" stroke-linejoin="round" stroke-linecap="round" stroke-dasharray="1.5,1.5"/>
<line x1="88.6" y1="327.3" x2="273.0" y2="327.3" stroke="#222" stroke-width="1" stroke-dasharray="1.3,1.3"/>
<polyline points="87.4,359.0 87.9,356.9 88.4,355.2 89.0,354.0 89.5,352.9 90.0,350.9 90.8,350.0 91.7,348.5 92.5,346.8 93.4,345.4 94.2,344.2 95.0,342.5 95.9,341.0 96.8,339.7 97.6,338.4 98.7,336.6 99.9,334.6 101.0,333.2 102.6,333.0 104.2,332.9 105.8,332.1 107.4,332.0 108.9,332.1 110.5,331.9 112.0,331.6 113.6,332.0 115.1,332.2 116.7,331.7 118.2,331.8 119.8,331.8 121.3,331.7 122.9,331.6 124.4,331.1 126.0,331.2 127.6,330.5 129.2,331.1 130.8,330.5 132.4,330.5 134.0,330.8 135.7,330.1 137.3,329.9 138.9,330.4 140.5,330.0 142.1,329.4 143.7,329.2 145.2,329.4 146.7,329.0 148.2,329.7 149.7,328.9 151.3,328.9 152.8,328.9 154.3,328.9 155.8,328.7 157.3,328.8 158.8,328.7 160.3,328.4 161.8,327.9 163.3,328.7 164.8,328.3 166.4,327.6 167.9,327.8 169.4,328.0 170.9,328.1 172.4,327.1 173.9,326.9 175.4,327.3 176.9,327.1 178.4,327.5 180.0,327.3 181.5,326.7 183.0,326.6 184.5,326.7 186.0,326.9 187.5,326.1 189.0,326.2 190.5,325.8 192.1,326.3 193.6,325.6 195.1,326.4 196.6,325.9 198.1,325.8 199.6,325.3 201.1,325.3 202.6,325.5 204.2,325.8 205.7,325.3 207.2,325.0 208.7,325.6 210.2,325.2 211.7,325.0 213.2,324.6 214.7,324.6 216.2,325.1 217.8,324.2 219.3,324.5 220.8,324.5 222.3,324.2 223.8,324.5 225.3,324.6 226.8,324.4 228.3,324.2 229.9,323.6 231.4,323.4 232.9,323.7 234.4,323.5 235.9,323.3 237.4,323.9 238.9,323.2 240.4,323.7 241.9,323.8 243.5,322.9 245.0,323.6 246.5,323.0 248.0,322.7 249.5,322.6 251.0,322.4 252.5,322.8 254.0,322.6 255.5,323.0 257.0,322.9 258.6,322.1 260.1,322.3 261.6,322.2 263.1,322.0 264.6,322.0 266.1,322.2 267.7,322.8 269.2,322.6 270.7,322.6 272.3,322.9 273.8,323.3 275.4,323.6 276.9,323.5 278.4,324.1 280.0,323.8 281.5,324.3" fill="none" stroke="#000" stroke-width="5" stroke-linejoin="round" stroke-linecap="round" />
<line x1="204.1" y1="295.1" x2="222.3" y2="295.1" stroke="#111" stroke-width="1.3"/>
<path d="M210.7,295.1 L213.2,292.6 L215.7,295.1 L213.2,297.6 Z" fill="#000"/>
<text x="224.3" y="297.70000000000005" font-family="Liberation Sans, sans-serif" font-size="7.5" fill="#222" stroke="#222" stroke-width="0.15">average</text>
<path d="M321.5,230.2 V393.8 H513.6" fill="none" stroke="#b8b8b8" stroke-width="1"/>
<line x1="318.5" y1="230.2" x2="321.5" y2="230.2" stroke="#b8b8b8" stroke-width="1"/>
<line x1="318.5" y1="262.9" x2="321.5" y2="262.9" stroke="#b8b8b8" stroke-width="1"/>
<line x1="318.5" y1="295.6" x2="321.5" y2="295.6" stroke="#b8b8b8" stroke-width="1"/>
<line x1="318.5" y1="328.4" x2="321.5" y2="328.4" stroke="#b8b8b8" stroke-width="1"/>
<line x1="318.5" y1="361.1" x2="321.5" y2="361.1" stroke="#b8b8b8" stroke-width="1"/>
<line x1="318.5" y1="393.8" x2="321.5" y2="393.8" stroke="#b8b8b8" stroke-width="1"/>
<line x1="385.5" y1="393.8" x2="385.5" y2="396.8" stroke="#b8b8b8" stroke-width="1"/>
<line x1="449.6" y1="393.8" x2="449.6" y2="396.8" stroke="#b8b8b8" stroke-width="1"/>
<line x1="513.6" y1="393.8" x2="513.6" y2="396.8" stroke="#b8b8b8" stroke-width="1"/>
<g>
<text transform="translate(316.2,233.1) scale(1,1.15)" text-anchor="end" font-family="Liberation Sans, sans-serif" font-size="7.4" fill="#222" stroke="#222" stroke-width="0.28">1000000</text>
<text transform="translate(316.2,265.9) scale(1,1.15)" text-anchor="end" font-family="Liberation Sans, sans-serif" font-size="7.4" fill="#222" stroke="#222" stroke-width="0.28">100000</text>
<text transform="translate(316.2,298.6) scale(1,1.15)" text-anchor="end" font-family="Liberation Sans, sans-serif" font-size="7.4" fill="#222" stroke="#222" stroke-width="0.28">10000</text>
<text transform="translate(316.2,331.3) scale(1,1.15)" text-anchor="end" font-family="Liberation Sans, sans-serif" font-size="7.4" fill="#222" stroke="#222" stroke-width="0.28">1000</text>
<text transform="translate(316.2,364.0) scale(1,1.15)" text-anchor="end" font-family="Liberation Sans, sans-serif" font-size="7.4" fill="#222" stroke="#222" stroke-width="0.28">100</text>
<text transform="translate(316.2,396.8) scale(1,1.15)" text-anchor="end" font-family="Liberation Sans, sans-serif" font-size="7.4" fill="#222" stroke="#222" stroke-width="0.28">10</text>
</g>
<text transform="translate(321.5,407.3) scale(1,1.15)" text-anchor="middle" font-family="Liberation Sans, sans-serif" font-size="7.4" fill="#222" stroke="#222" stroke-width="0.28">0</text>
<text transform="translate(385.5,407.3) scale(1,1.15)" text-anchor="middle" font-family="Liberation Sans, sans-serif" font-size="7.4" fill="#222" stroke="#222" stroke-width="0.28">100</text>
<text transform="translate(449.6,407.3) scale(1,1.15)" text-anchor="middle" font-family="Liberation Sans, sans-serif" font-size="7.4" fill="#222" stroke="#222" stroke-width="0.28">200</text>
<text transform="translate(513.6,407.3) scale(1,1.15)" text-anchor="middle" font-family="Liberation Sans, sans-serif" font-size="7.4" fill="#222" stroke="#222" stroke-width="0.28">300</text>
<polyline points="327.1,321.7 331.3,307.8 336.9,296.7 348.8,285.4 367.2,281.5 398.0,280.0 415.0,280.0 452.5,285.0 490.0,292.5 515.0,297.5" fill="none" stroke="#f6c49a" stroke-width="2.6" stroke-linejoin="round" stroke-linecap="round" />
<polyline points="321.8,378.0 322.5,360.0 323.5,340.0 324.3,321.7 329.9,293.9" fill="none" stroke="#e8741c" stroke-width="1.6" stroke-linejoin="round" stroke-linecap="round" stroke-dasharray="1.5,1"/>
<polyline points="329.9,293.9 348.8,288.5 371.8,285.4 398.0,285.4 440.0,291.3" fill="none" stroke="#e8741c" stroke-width="2.4" stroke-linejoin="round" stroke-linecap="round" />
<polyline points="331.3,300.9 348.8,300.8 371.8,304.6 398.0,313.1 415.0,318.8" fill="none" stroke="#f2ee1c" stroke-width="3" stroke-linejoin="round" stroke-linecap="round" />
<polyline points="321.5,328.9 322.1,327.2 322.7,325.2 323.3,324.2 323.9,322.3 324.5,320.8 325.1,319.3 325.7,317.7 326.4,316.2 327.1,314.5 327.8,313.9 328.5,312.6 329.2,310.9 329.9,309.7 330.6,308.1 331.3,307.4 332.0,305.8 332.7,304.0 334.6,304.0 336.5,303.6 338.0,303.0 339.6,303.8 341.1,303.3 342.6,303.1 344.2,303.8 345.7,303.5 347.3,303.9 348.8,303.9 350.3,303.8 351.9,304.6 353.4,305.3 355.0,305.3 356.5,305.8 358.0,306.5 359.6,306.5 361.1,306.9 362.4,307.9 363.7,309.0 365.0,309.3 366.2,310.1 367.5,311.7 368.8,312.4 370.0,313.2 371.2,314.9 372.4,316.0 373.6,316.8 374.7,318.3 375.9,319.3 377.1,320.3 378.3,321.0 379.5,321.8 380.9,323.1 382.3,323.8 383.8,324.1 385.2,324.9 386.6,325.6 388.0,326.0 389.5,327.1 390.9,327.6 392.3,328.1 393.7,328.4 395.2,329.5 396.6,330.0 398.0,331.0 399.5,331.5 401.0,332.7 402.5,333.5 404.1,333.9 405.7,334.2 407.3,333.9 408.9,334.0 410.5,334.6 412.0,334.4 413.6,334.9 415.2,334.7 416.8,334.8 418.4,335.4 420.0,335.9 421.5,335.7 423.0,335.1 424.5,334.8 426.0,334.3 427.5,334.3 429.0,334.1 430.5,334.5 432.0,333.5 433.5,334.1 435.0,333.5 436.5,333.2 438.0,332.9 439.5,333.4 441.0,332.4 442.5,332.5" fill="none" stroke="#7c0a86" stroke-width="2.6" stroke-linejoin="round" stroke-linecap="round" />
<polyline points="325.7,345.6 326.3,344.0 326.9,341.6 327.5,340.3 328.1,341.4 328.7,339.3 329.3,337.7 329.9,336.9 330.4,332.8 330.8,333.2 331.3,331.8 331.8,328.5 332.2,327.7 332.7,327.9 333.2,324.2 333.6,324.1 334.1,320.6 335.3,321.2 336.5,318.9 337.7,318.7 339.0,317.2 340.2,317.8 341.4,316.4 342.6,314.6 344.1,314.9 345.7,313.9 347.2,314.8 348.8,312.8 350.3,313.5 351.9,313.3 353.4,312.5 355.0,311.1 356.5,311.2 358.0,312.4 359.6,310.8 361.1,312.2 362.7,311.1 364.2,312.3 365.7,312.5 367.2,312.7 368.8,312.2 370.3,311.7 371.8,314.0 373.4,315.1 374.9,316.1 376.4,314.3 378.0,314.7 379.6,317.8 381.1,317.5 382.6,317.2 384.2,318.5 385.6,317.2 387.0,319.1 388.3,320.1 389.7,320.5 391.1,319.7 392.5,320.2 393.9,322.4 395.2,323.8 396.6,322.0 398.0,322.2 399.3,323.3 400.7,326.4 402.0,326.0 403.3,327.0 404.7,329.5 406.0,329.2 407.3,328.9 408.7,331.1 410.0,329.7 411.4,331.3 412.9,333.3 414.3,332.3 415.7,332.5 417.1,334.7 418.6,334.8 420.0,337.5 421.4,335.3 422.9,338.1 424.3,337.4 425.7,339.3 427.1,338.7 428.6,340.0 430.0,339.4 431.1,340.2 432.2,342.0 433.3,344.1 434.4,343.8 435.4,344.4 436.5,346.1 437.6,346.1 438.7,347.9 440.1,349.6 441.6,350.4 443.0,351.4 444.4,351.3 445.9,351.3 447.3,352.2 448.8,352.8 450.3,352.0 451.8,352.8 453.2,351.4 454.7,352.6 456.2,351.7 457.7,351.5 459.5,352.4 461.2,352.3 463.0,352.7 464.1,353.7 465.2,354.4 466.3,358.1 468.0,357.0 469.8,355.6 471.5,358.0 473.3,356.7 475.0,356.7 476.3,357.4 477.6,357.7 478.9,361.8 480.2,360.4 481.9,360.9 483.6,362.7 485.4,359.7 487.1,360.7 488.6,360.8 490.1,360.3 491.6,362.7 493.1,361.3 494.7,360.2 496.2,361.9 497.7,360.6 499.2,363.1 500.5,362.7 501.8,362.0 503.1,358.4 504.4,359.6 505.9,358.9 507.4,359.9 508.9,359.8 510.3,360.3 511.8,360.3 513.3,362.3 514.8,362.4" fill="none" stroke="#8e1414" stroke-width="2.8" stroke-linejoin="round" stroke-linecap="round" />
<polyline points="321.6,351.9 321.8,351.3 322.0,348.9 322.2,348.3 322.4,346.0 322.6,344.4 322.8,343.6 323.1,341.9 323.3,340.6 323.5,338.9 323.7,337.5 323.9,335.5 324.1,334.6 324.3,332.9 325.2,332.0 326.2,329.6 327.1,328.3 328.0,327.5 329.0,326.3 329.9,324.4 331.3,323.9 332.7,322.9 334.1,321.9 335.5,321.1 336.9,320.4 338.3,319.0 339.7,318.4 341.1,317.9 342.6,317.3 344.2,317.4 345.7,317.0 347.3,316.9 348.8,317.1 350.3,317.4 351.9,317.8 353.4,317.6 355.0,317.5 356.5,317.9 358.0,317.8 359.6,318.2 361.1,318.8 362.7,319.1 364.2,318.9 365.7,319.5 367.2,320.0 368.8,320.7 370.3,321.7 371.8,322.1 373.3,323.3 374.9,323.7 376.4,324.1 378.0,324.9 379.5,325.1 381.1,326.5 382.6,327.2 385.0,328.0" fill="none" stroke="#1e9898" stroke-width="3" stroke-linejoin="round" stroke-linecap="round" />
<line x1="321.5" y1="328.4" x2="513.8" y2="328.4" stroke="#222" stroke-width="1" stroke-dasharray="1.3,1.3"/>
<polyline points="321.6,324.4 322.1,323.1 322.5,321.1 323.0,319.4 323.4,317.8 323.9,316.2 324.3,314.9 324.8,313.3 325.2,311.7 325.7,309.6 326.2,308.5 326.6,306.6 327.1,304.9 327.8,303.6 328.5,302.2 329.2,300.6 329.9,299.4 330.6,298.2 331.3,296.9 332.7,296.1 334.1,294.5 335.5,294.1 336.9,293.0 338.3,292.0 339.8,291.9 341.4,291.0 342.9,291.2 344.5,291.0 346.0,290.1 347.5,290.5 349.0,290.8 350.6,290.3 352.1,290.8 353.6,290.9 355.1,290.5 356.6,290.3 358.1,290.4 359.6,291.0 361.2,290.7 362.7,290.6 364.2,290.8 365.7,291.2 367.3,290.7 368.8,290.5 370.3,291.3 371.9,290.8 373.4,290.9 375.0,291.4 376.5,290.9 378.0,290.8 379.6,291.4 381.1,290.9 382.6,291.0 384.2,291.6 385.7,291.0 387.2,291.6 388.8,291.2 390.3,291.2 391.9,291.1 393.4,291.4 394.9,291.5 396.5,291.4 398.0,291.5 399.5,291.4 401.1,292.0 402.6,292.1 404.2,292.1 405.7,292.2 407.3,291.7 408.8,291.9 410.4,292.0 411.9,292.0 413.5,292.8 415.0,292.8 416.5,292.9 418.1,292.7 419.6,292.5 421.1,292.8 422.6,292.6 424.2,293.4 425.7,293.0 427.2,293.1 428.8,293.8 430.3,293.3 431.8,293.9 433.3,293.5 434.9,293.9 436.4,293.6 437.9,294.3 439.4,294.0 441.0,294.1 442.5,294.4 444.0,294.6 445.5,294.5 447.0,294.6 448.5,295.2 450.0,295.0 451.5,295.9 453.0,295.7 454.5,295.7 456.0,296.1 457.5,296.1 459.0,296.5 460.5,296.9 462.0,297.0 463.5,297.2 465.0,297.3 466.6,297.7 468.1,298.2 469.7,298.2 471.2,298.7 472.8,298.7 474.4,298.6 475.9,298.9 477.5,299.7 479.1,299.6 480.6,299.8 482.2,300.1 483.8,300.6 485.3,300.5 486.9,300.7 488.4,301.0 490.0,300.9 491.5,301.7 493.0,302.0 494.5,302.4 495.9,302.7 497.4,303.1 498.9,303.6 500.4,303.5 501.9,304.5 503.4,304.2 504.9,305.2 506.4,305.0 507.8,305.8 509.3,305.7 510.8,306.0 512.3,306.7 513.8,307.0" fill="none" stroke="#000" stroke-width="5" stroke-linejoin="round" stroke-linecap="round" />
<line x1="467.2" y1="259.7" x2="486.3" y2="259.7" stroke="#111" stroke-width="1.3"/>
<circle cx="476.75" cy="259.7" r="2.4" fill="#000"/>
<text x="489" y="262.3" font-family="Liberation Sans, sans-serif" font-size="7.5" fill="#222" stroke="#222" stroke-width="0.15">average</text>
<path d="M89.2,431.3 V594.1 H275.6" fill="none" stroke="#b8b8b8" stroke-width="1"/>
<line x1="86.2" y1="431.3" x2="89.2" y2="431.3" stroke="#b8b8b8" stroke-width="1"/>
<line x1="86.2" y1="463.9" x2="89.2" y2="463.9" stroke="#b8b8b8" stroke-width="1"/>
<line x1="86.2" y1="496.4" x2="89.2" y2="496.4" stroke="#b8b8b8" stroke-width="1"/>
<line x1="86.2" y1="529.0" x2="89.2" y2="529.0" stroke="#b8b8b8" stroke-width="1"/>
<line x1="86.2" y1="561.5" x2="89.2" y2="561.5" stroke="#b8b8b8" stroke-width="1"/>
<line x1="86.2" y1="594.1" x2="89.2" y2="594.1" stroke="#b8b8b8" stroke-width="1"/>
<line x1="146.5" y1="594.1" x2="146.5" y2="597.1" stroke="#b8b8b8" stroke-width="1"/>
<line x1="203.9" y1="594.1" x2="203.9" y2="597.1" stroke="#b8b8b8" stroke-width="1"/>
<line x1="261.2" y1="594.1" x2="261.2" y2="597.1" stroke="#b8b8b8" stroke-width="1"/>
<g>
<text transform="translate(84.6,434.2) scale(1,1.15)" text-anchor="end" font-family="Liberation Sans, sans-serif" font-size="7.4" fill="#222" stroke="#222" stroke-width="0.28">1000000</text>
<text transform="translate(84.6,466.8) scale(1,1.15)" text-anchor="end" font-family="Liberation Sans, sans-serif" font-size="7.4" fill="#222" stroke="#222" stroke-width="0.28">100000</text>
<text transform="translate(84.6,499.4) scale(1,1.15)" text-anchor="end" font-family="Liberation Sans, sans-serif" font-size="7.4" fill="#222" stroke="#222" stroke-width="0.28">10000</text>
<text transform="translate(84.6,531.9) scale(1,1.15)" text-anchor="end" font-family="Liberation Sans, sans-serif" font-size="7.4" fill="#222" stroke="#222" stroke-width="0.28">1000</text>
<text transform="translate(84.6,564.5) scale(1,1.15)" text-anchor="end" font-family="Liberation Sans, sans-serif" font-size="7.4" fill="#222" stroke="#222" stroke-width="0.28">100</text>
<text transform="translate(84.6,597.1) scale(1,1.15)" text-anchor="end" font-family="Liberation Sans, sans-serif" font-size="7.4" fill="#222" stroke="#222" stroke-width="0.28">10</text>
</g>
<text transform="translate(89.2,607.6) scale(1,1.15)" text-anchor="middle" font-family="Liberation Sans, sans-serif" font-size="7.4" fill="#222" stroke="#222" stroke-width="0.28">0</text>
<text transform="translate(146.5,607.6) scale(1,1.15)" text-anchor="middle" font-family="Liberation Sans, sans-serif" font-size="7.4" fill="#222" stroke="#222" stroke-width="0.28">100</text>
<text transform="translate(203.9,607.6) scale(1,1.15)" text-anchor="middle" font-family="Liberation Sans, sans-serif" font-size="7.4" fill="#222" stroke="#222" stroke-width="0.28">200</text>
<text transform="translate(261.2,607.6) scale(1,1.15)" text-anchor="middle" font-family="Liberation Sans, sans-serif" font-size="7.4" fill="#222" stroke="#222" stroke-width="0.28">300</text>
<polyline points="97.0,551.8 98.8,552.0 100.5,552.1 102.2,552.4 104.0,551.6 105.5,551.6 107.0,551.1 108.5,551.5 110.0,551.0 110.8,549.7 111.6,548.3 112.4,547.0 113.2,545.2 114.0,543.9 114.8,542.0 116.0,540.5 117.2,540.3 118.4,538.4 119.7,537.3 120.9,537.0 122.1,535.4 123.3,534.7 124.5,533.0 126.0,532.8 127.5,533.0 128.9,531.9 130.4,532.0 131.9,532.1 133.4,531.0 134.8,531.1 136.3,530.8 137.8,530.3 139.3,530.1 140.7,529.6 142.2,528.6 143.7,528.4 145.2,528.7 146.7,529.0 148.2,528.2 149.7,528.5 151.3,528.0 152.8,528.6 154.3,528.1 155.8,528.2 157.3,528.2 158.8,527.6 160.3,528.1 161.8,528.1 163.3,528.1 164.8,527.5 166.4,527.4 167.9,527.2 169.4,527.9 170.9,527.4 172.4,527.2 173.9,527.3 175.4,527.4 176.9,526.9 178.4,526.9 180.0,527.3 181.5,527.2 183.0,526.6 184.5,526.3 186.0,527.1 187.5,526.9 189.0,526.8 190.6,526.5 192.1,527.1 193.6,526.5 195.1,526.3 196.7,526.1 198.2,526.4 199.7,526.6 201.2,526.3 202.7,526.9 204.3,526.6 205.8,526.4 207.3,526.6 208.8,526.5 210.3,526.5 211.9,526.3 213.4,526.3 214.9,526.3 216.4,526.6 218.0,525.9 219.5,526.5 221.0,526.0 222.5,526.5 224.0,525.7 225.6,526.1 227.1,526.1 228.6,526.3 230.1,525.8 231.7,525.8 233.2,525.7 234.7,526.1 236.2,526.1 237.7,525.5 239.3,525.6 240.8,525.6 242.3,526.4 243.8,525.8 245.3,525.9 246.9,525.6 248.4,526.0 249.9,526.1 251.4,525.9 253.0,525.2 254.5,525.7 256.0,525.7 257.5,525.2 259.0,525.9 260.6,525.5 262.1,525.4 263.6,525.7 265.1,525.7 266.6,525.5 268.2,525.9 269.7,525.5 271.2,525.3 272.7,525.0 274.3,525.5 275.8,525.3 277.3,525.4" fill="none" stroke="#f6c49a" stroke-width="3.4" stroke-linejoin="round" stroke-linecap="round" />
<polyline points="87.9,533.5 89.0,532.3 90.0,530.9 91.1,529.9 92.2,528.9 93.2,527.8 94.3,527.3 95.4,526.0 96.4,524.7 97.5,524.0 98.7,522.8 99.9,521.3 101.1,520.8 102.3,519.3 103.6,518.8 104.8,517.1 106.0,516.1 107.2,515.0 108.8,515.1 110.3,514.7 111.9,514.2 113.5,513.5 115.1,513.4 116.6,513.2 118.2,512.4 119.8,512.7 121.4,512.3 122.9,512.0 124.5,511.5 126.1,511.5 127.7,511.8 129.3,511.4 130.9,511.5 132.5,511.4 134.1,511.5 135.7,512.1 137.3,511.6 138.9,512.2 140.5,512.1 142.1,512.5 143.7,512.5 145.2,512.4 146.7,512.6 148.2,511.9 149.7,512.1 151.3,512.2 152.8,512.2 154.3,512.4 155.8,512.6 157.3,512.5 158.8,512.6 160.3,512.5 161.8,512.2 163.3,512.3 164.8,512.5 166.4,512.6 167.9,512.2 169.4,512.2 170.9,512.4 172.4,512.1 173.9,512.6 175.4,511.9 176.9,512.4 178.4,512.3 180.0,512.1 181.5,512.4 183.0,512.3 184.5,512.7 186.0,512.6 187.5,512.2 189.0,512.3 190.5,512.2 192.1,511.5 193.6,511.9 195.1,511.8 196.6,511.8 198.1,511.4 199.6,511.0 201.1,510.7 202.6,511.0 204.2,510.5 205.7,510.8 207.2,510.5 208.7,510.6 210.2,510.1 211.7,509.9 213.2,510.2 214.7,509.9 216.2,509.5 217.8,509.5 219.3,509.3 220.8,509.3 222.3,509.1 223.8,508.8 225.3,509.1 226.8,508.9 228.3,508.6 229.8,508.1 231.3,507.8 232.8,508.1 234.3,508.0 235.8,507.7 237.3,507.2 238.8,507.4 240.3,507.1 241.8,506.8 243.3,506.8 244.8,506.5 246.3,506.5 247.8,506.4 249.3,506.4 250.8,505.5 252.3,505.7 253.8,505.9 255.3,505.5 256.8,505.2 258.3,505.3 259.8,504.5 261.3,504.9 262.8,504.6 264.3,504.4 265.8,504.0 267.3,504.1 268.8,503.8" fill="none" stroke="#168a16" stroke-width="2.5" stroke-linejoin="round" stroke-linecap="round" />
<polyline points="92.0,575.0 96.0,549.7 98.6,534.9 102.3,523.7 110.0,510.0 120.0,500.0 180.0,490.1 222.3,486.9 277.3,485.2" fill="none" stroke="#8060b8" stroke-width="1.8" stroke-linejoin="round" stroke-linecap="round" />
<polyline points="91.8,558.5 99.5,527.7 105.2,512.3 114.8,500.8 134.1,493.1 162.9,488.3 172.0,487.0 193.0,488.0 216.0,491.0 249.8,494.5" fill="none" stroke="#e828e8" stroke-width="2.5" stroke-linejoin="round" stroke-linecap="round" />
<polyline points="93.7,527.7 94.7,505.6 97.5,504.6 101.4,503.7 107.2,496.9 124.5,491.2 143.7,484.4 162.9,481.5 186.3,480.6" fill="none" stroke="#b04818" stroke-width="2.4" stroke-linejoin="round" stroke-linecap="round" />
<polyline points="101.4,512.3 114.8,503.7 143.7,497.9 173.5,499.8" fill="none" stroke="#f2ee1c" stroke-width="2.6" stroke-linejoin="round" stroke-linecap="round" />
<polyline points="89.0,575.0 90.0,560.0 92.0,545.0" fill="none" stroke="#8e1414" stroke-width="2.2" stroke-linejoin="round" stroke-linecap="round" />
<line x1="89.2" y1="496.0" x2="281.5" y2="496.0" stroke="#222" stroke-width="1" stroke-dasharray="1.3,1.3"/>
<polyline points="88.9,554.2 89.2,553.1 89.5,551.3 89.9,550.4 90.2,548.7 90.5,546.9 90.8,545.6 91.1,543.7 91.5,542.3 91.8,540.4 92.1,539.6 92.4,537.9 92.7,536.4 93.1,534.2 93.4,533.4 93.7,531.0 94.3,530.1 95.0,528.5 95.6,526.6 96.3,525.5 96.9,524.4 97.6,522.7 98.2,520.9 98.9,519.9 99.5,518.0 100.6,517.4 101.6,515.9 102.7,514.5 103.8,514.3 104.8,512.3 105.9,511.5 107.0,510.9 108.0,509.2 109.1,508.5 110.5,508.1 111.9,507.0 113.3,506.0 114.7,505.6 116.1,504.9 117.5,503.8 118.9,503.1 120.3,502.0 121.7,501.3 123.1,501.1 124.5,500.3 126.0,498.9 127.5,498.8 128.9,498.4 130.4,498.6 131.9,497.7 133.4,497.3 134.8,497.5 136.3,496.5 137.8,497.0 139.3,496.1 140.7,496.1 142.2,495.7 143.7,494.7 145.3,495.1 146.9,494.6 148.5,494.2 150.1,493.9 151.7,494.4 153.3,494.1 154.9,493.7 156.5,494.1 158.1,493.3 159.7,493.4 161.3,492.8 162.9,493.0 164.5,493.4 166.0,492.9 167.6,492.4 169.1,492.4 170.7,492.7 172.3,492.2 173.8,492.7 175.4,491.8 176.9,492.5 178.5,492.2 180.1,492.2 181.6,491.7 183.2,491.3 184.7,491.3 186.3,491.5" fill="none" stroke="#000" stroke-width="5" stroke-linejoin="round" stroke-linecap="round" />
<polyline points="184.2,496.5 185.7,496.1 187.2,496.2 188.8,496.8 190.3,496.9 191.8,496.9 193.3,496.9 194.9,496.8 196.4,497.1 197.9,497.0 199.4,496.9 201.0,496.8 202.5,496.5 204.0,496.6 205.5,496.8 207.1,497.0 208.6,496.8 210.1,497.5 211.6,497.3 213.2,497.4 214.7,497.6 216.2,497.1 217.7,497.7 219.3,497.8 220.8,497.3 222.3,497.2 223.8,497.7 225.3,497.8 226.8,497.7 228.3,497.4 229.9,497.6 231.4,497.2 232.9,497.3 234.4,497.4 235.9,497.7 237.4,497.2 238.9,497.8 240.4,497.1 241.9,497.9 243.5,497.3 245.0,497.8 246.5,497.8 248.0,497.9 249.5,497.5 251.0,497.7 252.5,497.3 254.0,497.8 255.5,497.2 257.0,497.8 258.6,497.6 260.1,497.1 261.6,497.9 263.1,497.4 264.6,497.2 266.2,496.5 267.8,495.5 269.3,494.9 270.9,494.5 272.7,495.1 274.4,495.1 276.2,495.4" fill="none" stroke="#000" stroke-width="4.5" stroke-linejoin="round" stroke-linecap="round" />
<line x1="214.1" y1="452.8" x2="232.3" y2="452.8" stroke="#111" stroke-width="1.3"/>
<path d="M220.7,452.8 L223.2,450.3 L225.7,452.8 L223.2,455.3 Z" fill="#000"/>
<text x="233.9" y="455.40000000000003" font-family="Liberation Sans, sans-serif" font-size="7.5" fill="#222" stroke="#222" stroke-width="0.15">average</text>
<path d="M327.4,431.5 V594.7 H514.7" fill="none" stroke="#b8b8b8" stroke-width="1"/>
<line x1="324.4" y1="431.5" x2="327.4" y2="431.5" stroke="#b8b8b8" stroke-width="1"/>
<line x1="324.4" y1="464.1" x2="327.4" y2="464.1" stroke="#b8b8b8" stroke-width="1"/>
<line x1="324.4" y1="496.8" x2="327.4" y2="496.8" stroke="#b8b8b8" stroke-width="1"/>
<line x1="324.4" y1="529.4" x2="327.4" y2="529.4" stroke="#b8b8b8" stroke-width="1"/>
<line x1="324.4" y1="562.1" x2="327.4" y2="562.1" stroke="#b8b8b8" stroke-width="1"/>
<line x1="324.4" y1="594.7" x2="327.4" y2="594.7" stroke="#b8b8b8" stroke-width="1"/>
<line x1="385.1" y1="594.7" x2="385.1" y2="597.7" stroke="#b8b8b8" stroke-width="1"/>
<line x1="442.9" y1="594.7" x2="442.9" y2="597.7" stroke="#b8b8b8" stroke-width="1"/>
<line x1="500.6" y1="594.7" x2="500.6" y2="597.7" stroke="#b8b8b8" stroke-width="1"/>
<g>
<text transform="translate(322.3,434.4) scale(1,1.15)" text-anchor="end" font-family="Liberation Sans, sans-serif" font-size="7.4" fill="#222" stroke="#222" stroke-width="0.28">1000000</text>
<text transform="translate(322.3,467.1) scale(1,1.15)" text-anchor="end" font-family="Liberation Sans, sans-serif" font-size="7.4" fill="#222" stroke="#222" stroke-width="0.28">100000</text>
<text transform="translate(322.3,499.7) scale(1,1.15)" text-anchor="end" font-family="Liberation Sans, sans-serif" font-size="7.4" fill="#222" stroke="#222" stroke-width="0.28">10000</text>
<text transform="translate(322.3,532.4) scale(1,1.15)" text-anchor="end" font-family="Liberation Sans, sans-serif" font-size="7.4" fill="#222" stroke="#222" stroke-width="0.28">1000</text>
<text transform="translate(322.3,565.0) scale(1,1.15)" text-anchor="end" font-family="Liberation Sans, sans-serif" font-size="7.4" fill="#222" stroke="#222" stroke-width="0.28">100</text>
<text transform="translate(322.3,597.7) scale(1,1.15)" text-anchor="end" font-family="Liberation Sans, sans-serif" font-size="7.4" fill="#222" stroke="#222" stroke-width="0.28">10</text>
</g>
<text transform="translate(327.4,608.2) scale(1,1.15)" text-anchor="middle" font-family="Liberation Sans, sans-serif" font-size="7.4" fill="#222" stroke="#222" stroke-width="0.28">0</text>
<text transform="translate(385.1,608.2) scale(1,1.15)" text-anchor="middle" font-family="Liberation Sans, sans-serif" font-size="7.4" fill="#222" stroke="#222" stroke-width="0.28">100</text>
<text transform="translate(442.9,608.2) scale(1,1.15)" text-anchor="middle" font-family="Liberation Sans, sans-serif" font-size="7.4" fill="#222" stroke="#222" stroke-width="0.28">200</text>
<text transform="translate(500.6,608.2) scale(1,1.15)" text-anchor="middle" font-family="Liberation Sans, sans-serif" font-size="7.4" fill="#222" stroke="#222" stroke-width="0.28">300</text>
<polyline points="327.4,567.4 328.5,532.9 330.6,504.8 335.0,461.6" fill="none" stroke="#e8741c" stroke-width="1.5" stroke-linejoin="round" stroke-linecap="round" stroke-dasharray="1.5,1"/>
<polyline points="335.0,461.9 336.1,462.9 337.1,463.9 338.2,464.7 339.3,465.7 339.9,467.2 340.5,469.0 341.1,470.3 341.8,472.3 342.4,473.5 343.0,475.2 343.6,476.7 344.2,475.3 344.8,473.3 345.4,471.9 346.1,470.7 346.7,468.8 347.3,467.6 347.9,466.3 349.2,465.0 350.5,464.5 351.8,463.4 353.1,462.8 354.4,461.6 355.9,461.7 357.5,461.5 359.0,461.0 360.5,461.2 362.1,461.1 363.6,461.0 365.1,461.0 366.7,461.1 368.2,460.9 369.8,460.8 371.3,460.2 372.8,460.5 374.4,460.4 375.9,460.5 377.4,459.7 379.0,459.7 380.5,460.2 382.0,459.6 383.6,459.8 385.1,459.6 386.6,459.4 388.2,459.3 389.7,459.3 391.3,459.5 392.8,459.0 394.3,459.1 395.9,458.7 397.4,458.9 398.9,458.7 400.5,458.7 402.0,458.7 403.5,458.0 405.1,458.6 406.6,458.2 408.2,457.8 409.7,457.9 411.3,457.5 412.8,457.5 414.4,457.9 415.9,457.7 417.5,457.7 419.0,457.0 420.5,457.0 422.0,457.2 423.5,457.2 425.0,457.4 426.5,457.0 428.0,457.4 429.5,457.2 431.0,457.0 432.5,457.3 434.0,456.8 435.5,457.1 437.1,456.8 438.6,456.7 440.1,457.0 441.6,457.0 443.1,457.1 444.6,456.8 446.1,457.3 447.6,457.1 449.1,456.6 450.6,456.5 452.1,457.2 453.6,456.7 455.1,456.8" fill="none" stroke="#e8741c" stroke-width="2.2" stroke-linejoin="round" stroke-linecap="round" />
<polyline points="330.6,461.6 337.1,453.0 343.6,455.1 360.0,458.0" fill="none" stroke="#f2ee1c" stroke-width="2.6" stroke-linejoin="round" stroke-linecap="round" />
<polyline points="327.0,544.6 328.0,510.4 331.0,482.2 335.0,470.0 337.7,466.2 343.8,453.8 348.5,451.1 360.8,452.3 383.8,457.7 410.0,461.5 435.0,467.2 453.8,471.2" fill="none" stroke="#e828e8" stroke-width="2.4" stroke-linejoin="round" stroke-linecap="round" />
<polyline points="339.3,463.8 347.9,470.2 365.2,482.1 382.5,495.0 395.0,503.7 407.0,511.0 419.0,516.2 437.1,520.5" fill="none" stroke="#7c0a86" stroke-width="2.6" stroke-linejoin="round" stroke-linecap="round" />
<line x1="327.4" y1="497.0" x2="520.0" y2="497.0" stroke="#222" stroke-width="1" stroke-dasharray="1.3,1.3"/>
<polyline points="327.4,524.2 328.5,509.1 329.6,491.8 330.6,478.0" fill="none" stroke="#000" stroke-width="1.6" stroke-linejoin="round" stroke-linecap="round" />
<circle cx="327.3" cy="524" r="2.3" fill="#000"/>
<circle cx="327.6" cy="519.5" r="2.3" fill="#000"/>
<circle cx="327.9" cy="515" r="2.3" fill="#000"/>
<circle cx="328.3" cy="510" r="2.3" fill="#000"/>
<circle cx="328.8" cy="502" r="2.3" fill="#000"/>
<circle cx="329.4" cy="493" r="2.3" fill="#000"/>
<circle cx="330" cy="484.5" r="2.3" fill="#000"/>
<circle cx="330.6" cy="477.5" r="2.3" fill="#000"/>
<polyline points="330.6,476.7 330.9,475.1 331.2,473.8 331.5,471.7 332.0,470.4 332.5,469.1 333.1,467.4 333.6,466.1 334.1,464.9 334.6,463.2 336.1,461.8 337.7,460.6 339.2,459.0 340.8,459.1 342.3,458.8 343.9,458.5 345.4,458.2 346.9,458.2 348.5,457.5 350.0,458.0 351.6,458.3 353.1,457.7 354.7,458.0 356.2,458.7 357.7,458.1 359.3,458.8 360.8,458.7 362.3,458.4 363.9,459.0 365.4,458.6 367.0,459.4 368.5,459.0 370.0,459.8 371.6,460.0 373.1,459.7 374.6,460.1 376.2,460.2 377.7,460.9 379.2,460.6 380.8,460.9 382.3,461.2 383.8,462.0 385.4,461.8 386.9,462.1 388.4,462.5 390.0,462.8 391.5,462.9 393.0,463.6 394.6,463.3 396.1,463.6 397.7,464.1 399.2,463.8 400.8,463.9 402.3,464.7 403.8,464.5 405.4,465.1 406.9,465.3 408.5,465.1 410.0,465.3 411.6,465.2 413.1,466.0 414.7,465.9 416.3,465.9 417.9,466.0 419.4,466.2 421.0,466.9 422.6,466.4 424.2,466.9 425.7,467.2 427.3,467.2 428.9,467.4 430.5,467.5 432.0,467.5 433.6,467.9" fill="none" stroke="#000" stroke-width="5.5" stroke-linejoin="round" stroke-linecap="round" />
<polyline points="433.6,467.9 435.0,463.0 455.2,464.5" fill="none" stroke="#000" stroke-width="4.5" stroke-linejoin="round" stroke-linecap="round" />
<polyline points="454.5,464.5 454.5,471.5" fill="none" stroke="#000" stroke-width="1.2" stroke-linejoin="round" stroke-linecap="round" />
<polyline points="452.5,471.9 470.0,475.3 479.1,477.3 515.2,484.5" fill="none" stroke="#000" stroke-width="5" stroke-linejoin="round" stroke-linecap="round" />
<line x1="460.1" y1="524.7" x2="479.6" y2="524.7" stroke="#111" stroke-width="1.3"/>
<circle cx="469.85" cy="524.7" r="2.4" fill="#000"/>
<text x="481.6" y="527.3000000000001" font-family="Liberation Sans, sans-serif" font-size="7.5" fill="#222" stroke="#222" stroke-width="0.15">average</text>
</svg>
</body></html>
